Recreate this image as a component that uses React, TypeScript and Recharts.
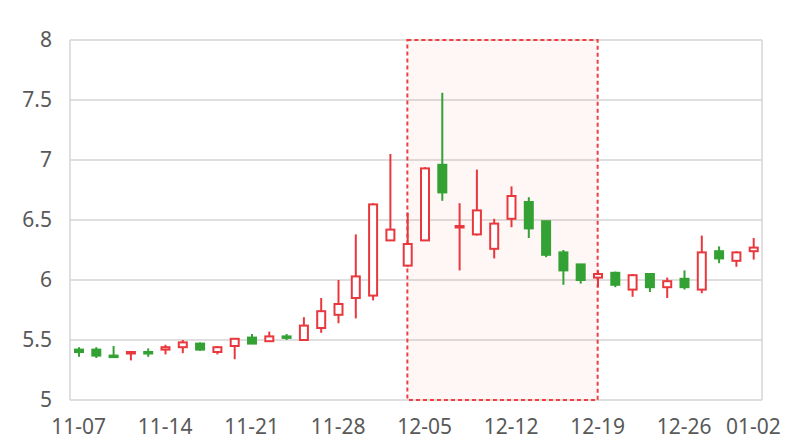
import { Bar, BarChart, CartesianGrid, ReferenceArea, ReferenceLine, XAxis, YAxis } from 'recharts'

const dates = [
  '11-07', '11-08', '11-09', '11-10',
  '11-13', '11-14', '11-15', '11-16', '11-17',
  '11-20', '11-21', '11-22', '11-23', '11-24',
  '11-27', '11-28', '11-29', '11-30', '12-01',
  '12-04', '12-05', '12-06', '12-07', '12-08',
  '12-11', '12-12', '12-13', '12-14', '12-15',
  '12-18', '12-19', '12-20', '12-21', '12-22',
  '12-25', '12-26', '12-27', '12-28', '12-29',
  '01-02',
]

const opens = [
  5.42, 5.42, 5.37, 5.39, 5.4, 5.42, 5.44, 5.47, 5.4, 5.45,
  5.52, 5.49, 5.53, 5.5, 5.6, 5.71, 5.85, 5.87, 6.33, 6.12,
  6.33, 6.96, 6.44, 6.38, 6.26, 6.51, 6.65, 6.49, 6.23, 6.13,
  6.02, 6.06, 5.92, 6.05, 5.94, 6.01, 5.92, 6.24, 6.16, 6.24,
]
const closes = [
  5.4, 5.37, 5.36, 5.4, 5.39, 5.44, 5.48, 5.42, 5.44, 5.51,
  5.47, 5.53, 5.52, 5.62, 5.74, 5.8, 6.03, 6.63, 6.42, 6.3,
  6.93, 6.73, 6.45, 6.58, 6.47, 6.7, 6.43, 6.21, 6.08, 6.0,
  6.05, 5.96, 6.04, 5.94, 5.99, 5.94, 6.23, 6.18, 6.23, 6.27,
]
const highs = [
  5.44, 5.44, 5.45, 5.4, 5.43, 5.46, 5.5, 5.48, 5.45, 5.51,
  5.55, 5.57, 5.55, 5.69, 5.85, 6.0, 6.38, 6.64, 7.05, 6.56,
  6.94, 7.56, 6.64, 6.92, 6.51, 6.78, 6.69, 6.49, 6.25, 6.13,
  6.08, 6.07, 6.05, 6.05, 6.02, 6.08, 6.37, 6.28, 6.24, 6.35,
]
const lows = [
  5.36, 5.35, 5.36, 5.33, 5.36, 5.38, 5.39, 5.41, 5.38, 5.34,
  5.47, 5.49, 5.5, 5.5, 5.56, 5.64, 5.68, 5.83, 6.33, 6.11,
  6.33, 6.66, 6.08, 6.37, 6.18, 6.44, 6.35, 6.19, 5.96, 5.97,
  5.94, 5.94, 5.86, 5.9, 5.85, 5.92, 5.89, 6.14, 6.11, 6.17,
]

const labelIndexes = [0, 5, 10, 15, 20, 25, 30, 35, 39]
const yTicks = [5, 5.5, 6, 6.5, 7, 7.5, 8]
const highlightFrom = 19
const highlightTo = 30

const RED = '#e8383d'
const GREEN = '#33a133'
const FONT = '"Noto Sans", sans-serif'

const data = dates.map((date, i) => ({
  idx: i,
  date,
  open: opens[i],
  close: closes[i],
  high: highs[i],
  low: lows[i],
  range: [lows[i], highs[i]],
}))

function Candle(props: any) {
  const { x, y, width, height, payload } = props
  const { open, close, high, low } = payload
  const up = close >= open
  const color = up ? RED : GREEN
  const ratio = height / (high - low)
  const yOf = (v: number) => y + (high - v) * ratio
  const top = yOf(Math.max(open, close))
  const bottom = yOf(Math.min(open, close))
  const cx = x + width / 2
  return (
    <g>
      <line x1={cx} x2={cx} y1={y} y2={y + height} stroke={color} strokeWidth={2} />
      <rect
        x={x + 1}
        y={top}
        width={width - 2}
        height={Math.max(bottom - top, 1.5)}
        fill={up ? '#ffffff' : color}
        stroke={color}
        strokeWidth={2}
      />
    </g>
  )
}

export default function App() {
  return (
    <div style={{ position: 'absolute', left: 0, top: 0, width: 800, height: 440, background: '#fff' }}>
      <BarChart width={800} height={440} data={data} margin={{ top: 40, right: 38, bottom: 0, left: 0 }}>
        <CartesianGrid vertical={false} stroke="#d4d4d4" strokeWidth={1.5} />
        <ReferenceArea
          x1={highlightFrom}
          x2={highlightTo}
          fill="#ff0000"
          fillOpacity={0.035}
          stroke="#ee4040"
          strokeWidth={2}
          strokeDasharray="4 3"
        />
        <ReferenceLine x={-0.5} stroke="#d4d4d4" strokeWidth={1.5} />
        <ReferenceLine x={39.5} stroke="#d4d4d4" strokeWidth={1.5} />
        <XAxis
          dataKey="idx"
          type="number"
          domain={[-0.5, 39.5]}
          ticks={labelIndexes}
          interval={0}
          tickFormatter={(i) => dates[i]}
          axisLine={false}
          tickLine={false}
          tickSize={6}
          tickMargin={13}
          height={40}
          tick={{ fill: '#595959', fontSize: 21, fontFamily: FONT }}
        />
        <YAxis
          domain={[5, 8]}
          ticks={yTicks}
          interval={0}
          axisLine={false}
          tickLine={false}
          tickSize={6}
          tickMargin={12}
          width={70}
          tick={{ fill: '#595959', fontSize: 21, fontFamily: FONT }}
        />
        <Bar dataKey="range" barSize={10} shape={Candle} isAnimationActive={false} />
      </BarChart>
    </div>
  )
}
